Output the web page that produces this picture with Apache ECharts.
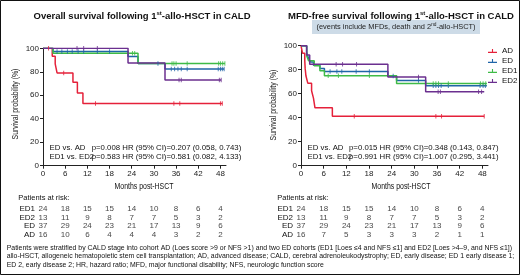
<!DOCTYPE html>
<html>
<head>
<meta charset="utf-8">
<script src="https://cdn.jsdelivr.net/npm/echarts@6/dist/echarts.min.js"></script>
<style>
  html, body { margin: 0; padding: 0; background: #fff; }
  #main { width: 520px; height: 275px; }
</style>
</head>
<body>
<div id="main"></div>
<script>
// ---- data ----
var colors = ['#e5213a', '#2065a8', '#3fbb47', '#6b2f8f']; // AD, ED, ED1, ED2
var names = ['AD', 'ED', 'ED1', 'ED2'];
var riskMonths = [0, 6, 12, 18, 24, 30, 36, 42, 48];
var riskRows = ['ED1', 'ED2', 'ED', 'AD'];

// overall survival, step points [month, %]
var osAD = [[0, 100], [2.5, 93.3], [3.3, 86.7], [3.8, 79], [8.1, 71], [9.3, 62], [10.8, 53], [48.5, 53]];
var osED = [[0, 100], [2.7, 97.3], [23, 93.1], [25.7, 87.1], [33, 82.3], [49, 82.3]];
var osED1 = [[0, 100], [2.7, 95.8], [25.7, 87.1], [49.2, 87.1]];
var osED2 = [[0, 100], [23, 87.5], [33, 72.9], [48.2, 72.9]];
// censored times
var osADc = [[1.5, 100], [5.6, 79], [14.2, 53], [35.4, 53], [37, 53], [48, 53], [48.5, 53]];
var osEDc = [[3.8, 97.3], [5.1, 97.3], [6.6, 97.3], [7.9, 97.3], [9.5, 97.3], [11, 97.3], [14.7, 97.3], [18, 97.3],
  [31.1, 87.1], [34.7, 82.3], [35.6, 82.3], [36.5, 82.3], [37.4, 82.3], [39, 82.3], [47.4, 82.3], [48, 82.3], [48.5, 82.3], [49, 82.3]];
var osED1c = [[24.2, 95.8], [24.8, 95.8], [34.9, 87.1], [35.4, 87.1], [36, 87.1], [39, 87.1], [47.5, 87.1], [48, 87.1], [48.6, 87.1], [49.2, 87.1]];
var osED2c = [[9.2, 100], [11, 100], [14.7, 100], [36.8, 72.9], [37.4, 72.9], [47.7, 72.9], [48.2, 72.9]];

// MFD-free survival
var mfdAD = [[0, 100], [0.4, 93.8], [1.0, 87.5], [1.1, 81.3], [1.3, 75], [1.8, 68.8], [2.8, 62.5], [3.3, 56.3], [3.7, 48.2], [8.3, 41.3], [48.5, 41.3]];
var mfdED = [[0, 100], [1.5, 94.6], [2.0, 89.2], [2.5, 86.5], [3.3, 83.8], [5.0, 81.1], [6.2, 78.4], [23, 74.7], [25.3, 71.1], [33, 66.6], [49.2, 66.6]];
var mfdED1 = [[0, 100], [1.5, 91.7], [2.0, 87.5], [3.5, 83.3], [5.0, 79.2], [6.2, 75], [25.3, 68.5], [49.2, 68.5]];
var mfdED2 = [[0, 100], [1.5, 92.3], [2.3, 84.6], [23, 74], [33, 61.7], [48.5, 61.7]];
var mfdADc = [[14.1, 41.3], [35.7, 41.3], [37.2, 41.3], [48.5, 41.3]];
var mfdEDc = [[7.7, 78.4], [9.5, 78.4], [10.8, 78.4], [14.6, 78.4], [18.1, 78.4], [24.4, 74.7], [31.1, 71.1],
  [35, 66.6], [35.7, 66.6], [36.4, 66.6], [37.1, 66.6], [39, 66.6], [47.4, 66.6], [48.2, 66.6], [48.8, 66.6]];
var mfdED1c = [[7.2, 75], [9.9, 75], [18.1, 75], [35, 68.5], [35.7, 68.5], [36.4, 68.5], [39, 68.5], [47.5, 68.5], [48.2, 68.5], [48.9, 68.5]];
var mfdED2c = [[9.3, 84.6], [11, 84.6], [14.7, 84.6], [31.1, 74], [36.3, 61.7], [36.9, 61.7], [47, 61.7], [47.8, 61.7]];

// numbers at risk
var osRiskED1 = [24, 18, 15, 15, 14, 10, 8, 6, 4];
var osRiskED2 = [13, 11, 9, 8, 7, 7, 5, 3, 2];
var osRiskED = [37, 29, 24, 23, 21, 17, 13, 9, 6];
var osRiskAD = [16, 10, 6, 4, 4, 4, 3, 2, 2];
var mfdRiskED1 = [24, 18, 15, 15, 14, 10, 8, 6, 4];
var mfdRiskED2 = [13, 11, 9, 8, 7, 7, 5, 3, 2];
var mfdRiskED = [37, 29, 24, 23, 21, 17, 13, 9, 6];
var mfdRiskAD = [16, 7, 5, 3, 3, 3, 2, 1, 1];

// ---- chart ----
var myChart = echarts.init(document.getElementById('main'));
var sans = '"Liberation Sans", Arial, sans-serif';

function plotX(grid) {
  return {
    gridIndex: grid, type: 'value', min: 0, max: 49.5, interval: 6,
    axisLine: { lineStyle: { color: '#222', width: 1 } },
    axisTick: { length: 3, lineStyle: { color: '#222' }, customValues: riskMonths },
    axisLabel: { fontFamily: sans, fontSize: 8, color: '#222', margin: 4, customValues: riskMonths },
    splitLine: { show: false }
  };
}
function plotY(grid) {
  return {
    gridIndex: grid, type: 'value', min: 0, max: 100, interval: 20,
    axisLine: { show: true, lineStyle: { color: '#222', width: 1 } },
    axisTick: { show: true, length: 3, lineStyle: { color: '#222' } },
    axisLabel: { fontFamily: sans, fontSize: 8, color: '#222', margin: 4 },
    splitLine: { show: false }
  };
}
function riskX(grid) {
  return { gridIndex: grid, type: 'value', min: 0, max: 49.5, show: false };
}
function riskY(grid) {
  return {
    gridIndex: grid, type: 'category', data: riskRows, inverse: true,
    axisLine: { show: false }, axisTick: { show: false }, splitLine: { show: false },
    axisLabel: { interval: 0, fontFamily: sans, fontSize: 8, color: '#111', margin: 8 }
  };
}

function km(name, pts, ci, ax) {
  return {
    name: name, type: 'line', step: 'end', data: pts, xAxisIndex: ax, yAxisIndex: ax,
    showSymbol: false, silent: true, z: 3,
    lineStyle: { color: colors[ci], width: 1.5 }, itemStyle: { color: colors[ci] }
  };
}
function cens(name, pts, ci, ax) {
  return {
    name: name, type: 'scatter', data: pts, xAxisIndex: ax, yAxisIndex: ax,
    symbol: 'rect', symbolSize: [1, 4.5], silent: true, z: 4,
    itemStyle: { color: colors[ci] }
  };
}
function riskSeries(ax, rows) {
  var data = [];
  rows.forEach(function (row, r) {
    row.forEach(function (n, i) { data.push([riskMonths[i], riskRows[r], n]); });
  });
  return {
    type: 'scatter', xAxisIndex: ax, yAxisIndex: ax, data: data, symbolSize: 1, silent: true,
    itemStyle: { color: 'rgba(0,0,0,0)' },
    label: { show: true, position: 'inside', fontFamily: sans, fontSize: 8, color: '#111',
      formatter: function (p) { return p.value[2]; } }
  };
}

var titleRich = {
  a: { fontFamily: sans, fontSize: 9.5, fontWeight: 'bold', color: '#111', lineHeight: 12 },
  s: { fontFamily: sans, fontSize: 6, fontWeight: 'bold', color: '#111', verticalAlign: 'top', lineHeight: 12 }
};

function txt(x, y, s, size, extra) {
  var st = { text: s, fontFamily: sans, fontSize: size, fill: '#111', verticalAlign: 'middle' };
  var el = { type: 'text', x: x, y: y, style: st, silent: true };
  for (var k in extra) {
    if (k === 'scaleX' || k === 'rotation') el[k] = extra[k]; else st[k] = extra[k];
  }
  return el;
}
// condensed axis titles
function axisName(x, y, s, rot) {
  return txt(x, y, s, 9, { align: 'center', scaleX: 0.77, rotation: rot ? Math.PI / 2 : 0 });
}

var footnote = [
  'Patients were stratified by CALD stage into cohort AD (Loes score >9 or NFS >1) and two ED cohorts (ED1 [Loes \u22644 and NFS \u22641] and ED2 [Loes >4\u20139, and NFS \u22641])',
  'allo-HSCT, allogeneic hematopoietic stem cell transplantation; AD, advanced disease; CALD, cerebral adrenoleukodystrophy; ED, early disease; ED 1 early disease 1;',
  'ED 2, early disease 2; HR, hazard ratio; MFD, major functional disability; NFS, neurologic function score'
];

var option = {
  animation: false,
  backgroundColor: '#fff',
  title: [
    { text: '{a|Overall survival following 1}{s|st}{a|-allo-HSCT in CALD}', left: 137, top: 5,
      textAlign: 'center', textStyle: { rich: titleRich } },
    { text: '{a|MFD-free survival following 1}{s|st}{a|-allo-HSCT in CALD}', left: 396, top: 5,
      textAlign: 'center', textStyle: { rich: titleRich } }
  ],
  legend: {
    data: names, orient: 'vertical', left: 488, top: 47, padding: 0, itemGap: 2, itemWidth: 9, itemHeight: 6,
    icon: 'path://M0,4.3h10v1.4h-10z M4.4,1.5h1.2v4h-1.2z',
    textStyle: { fontFamily: sans, fontSize: 8, color: '#111' }
  },
  grid: [
    { left: 43, top: 48.3, width: 183, height: 117.4 },
    { left: 301, top: 45.7, width: 187, height: 120 },
    { left: 43, top: 205, width: 183, height: 34 },
    { left: 301, top: 205, width: 187, height: 34 }
  ],
  xAxis: [plotX(0), plotX(1), riskX(2), riskX(3)],
  yAxis: [plotY(0), plotY(1), riskY(2), riskY(3)],
  series: [
    km('AD', osAD, 0, 0), km('ED', osED, 1, 0), km('ED1', osED1, 2, 0), km('ED2', osED2, 3, 0),
    cens('AD', osADc, 0, 0), cens('ED', osEDc, 1, 0), cens('ED1', osED1c, 2, 0), cens('ED2', osED2c, 3, 0),
    km('AD', mfdAD, 0, 1), km('ED', mfdED, 1, 1), km('ED1', mfdED1, 2, 1), km('ED2', mfdED2, 3, 1),
    cens('AD', mfdADc, 0, 1), cens('ED', mfdEDc, 1, 1), cens('ED1', mfdED1c, 2, 1), cens('ED2', mfdED2c, 3, 1),
    riskSeries(2, [osRiskED1, osRiskED2, osRiskED, osRiskAD]),
    riskSeries(3, [mfdRiskED1, mfdRiskED2, mfdRiskED, mfdRiskAD])
  ],
  graphic: [
    { type: 'rect', shape: { x: 0.5, y: 0.5, width: 519, height: 274 }, style: { fill: 'none', stroke: '#111', lineWidth: 1 }, silent: true },
    { type: 'rect', shape: { x: 312, y: 20, width: 168, height: 14 }, style: { fill: '#cddbe7' }, silent: true },
    txt(396, 27.2, '{a|(events include MFDs, death and 2}{s|nd}{a|-allo-HSCT)}', 7.4, {
      align: 'center',
      rich: { a: { fontFamily: sans, fontSize: 7.4, fill: '#222', lineHeight: 10 },
              s: { fontFamily: sans, fontSize: 4.8, fill: '#222', verticalAlign: 'top', lineHeight: 10 } }
    }),
    axisName(144, 187, 'Months post-HSCT'), axisName(401, 187, 'Months post-HSCT'),
    axisName(15.7, 104, 'Survival probability (%)', true), axisName(273.3, 105, 'Survival probability (%)', true),
    txt(49.5, 148.3, 'ED vs. AD', 7.8), txt(91.7, 148.3, 'p=0.008 HR (95% CI)=0.207 (0.058, 0.743)', 7.8),
    txt(49.5, 156.8, 'ED1 vs. ED2', 7.8), txt(91.7, 156.8, 'p=0.583 HR (95% CI)=0.581 (0.082, 4.133)', 7.8),
    txt(307.5, 148.3, 'ED vs. AD', 7.8), txt(349, 148.3, 'p=0.015 HR (95% CI)=0.348 (0.143, 0.847)', 7.8),
    txt(307.5, 156.8, 'ED1 vs. ED2', 7.8), txt(349, 156.8, 'p=0.991 HR (95% CI)=1.007 (0.295, 3.441)', 7.8),
    txt(18.3, 197.7, 'Patients at risk:', 7.5), txt(277.3, 197.7, 'Patients at risk:', 7.5),
    txt(6.7, 247.7, footnote[0], 6.9), txt(6.7, 256.3, footnote[1], 6.9), txt(6.7, 265, footnote[2], 6.9)
  ]
};

myChart.setOption(option);
</script>
</body>
</html>
